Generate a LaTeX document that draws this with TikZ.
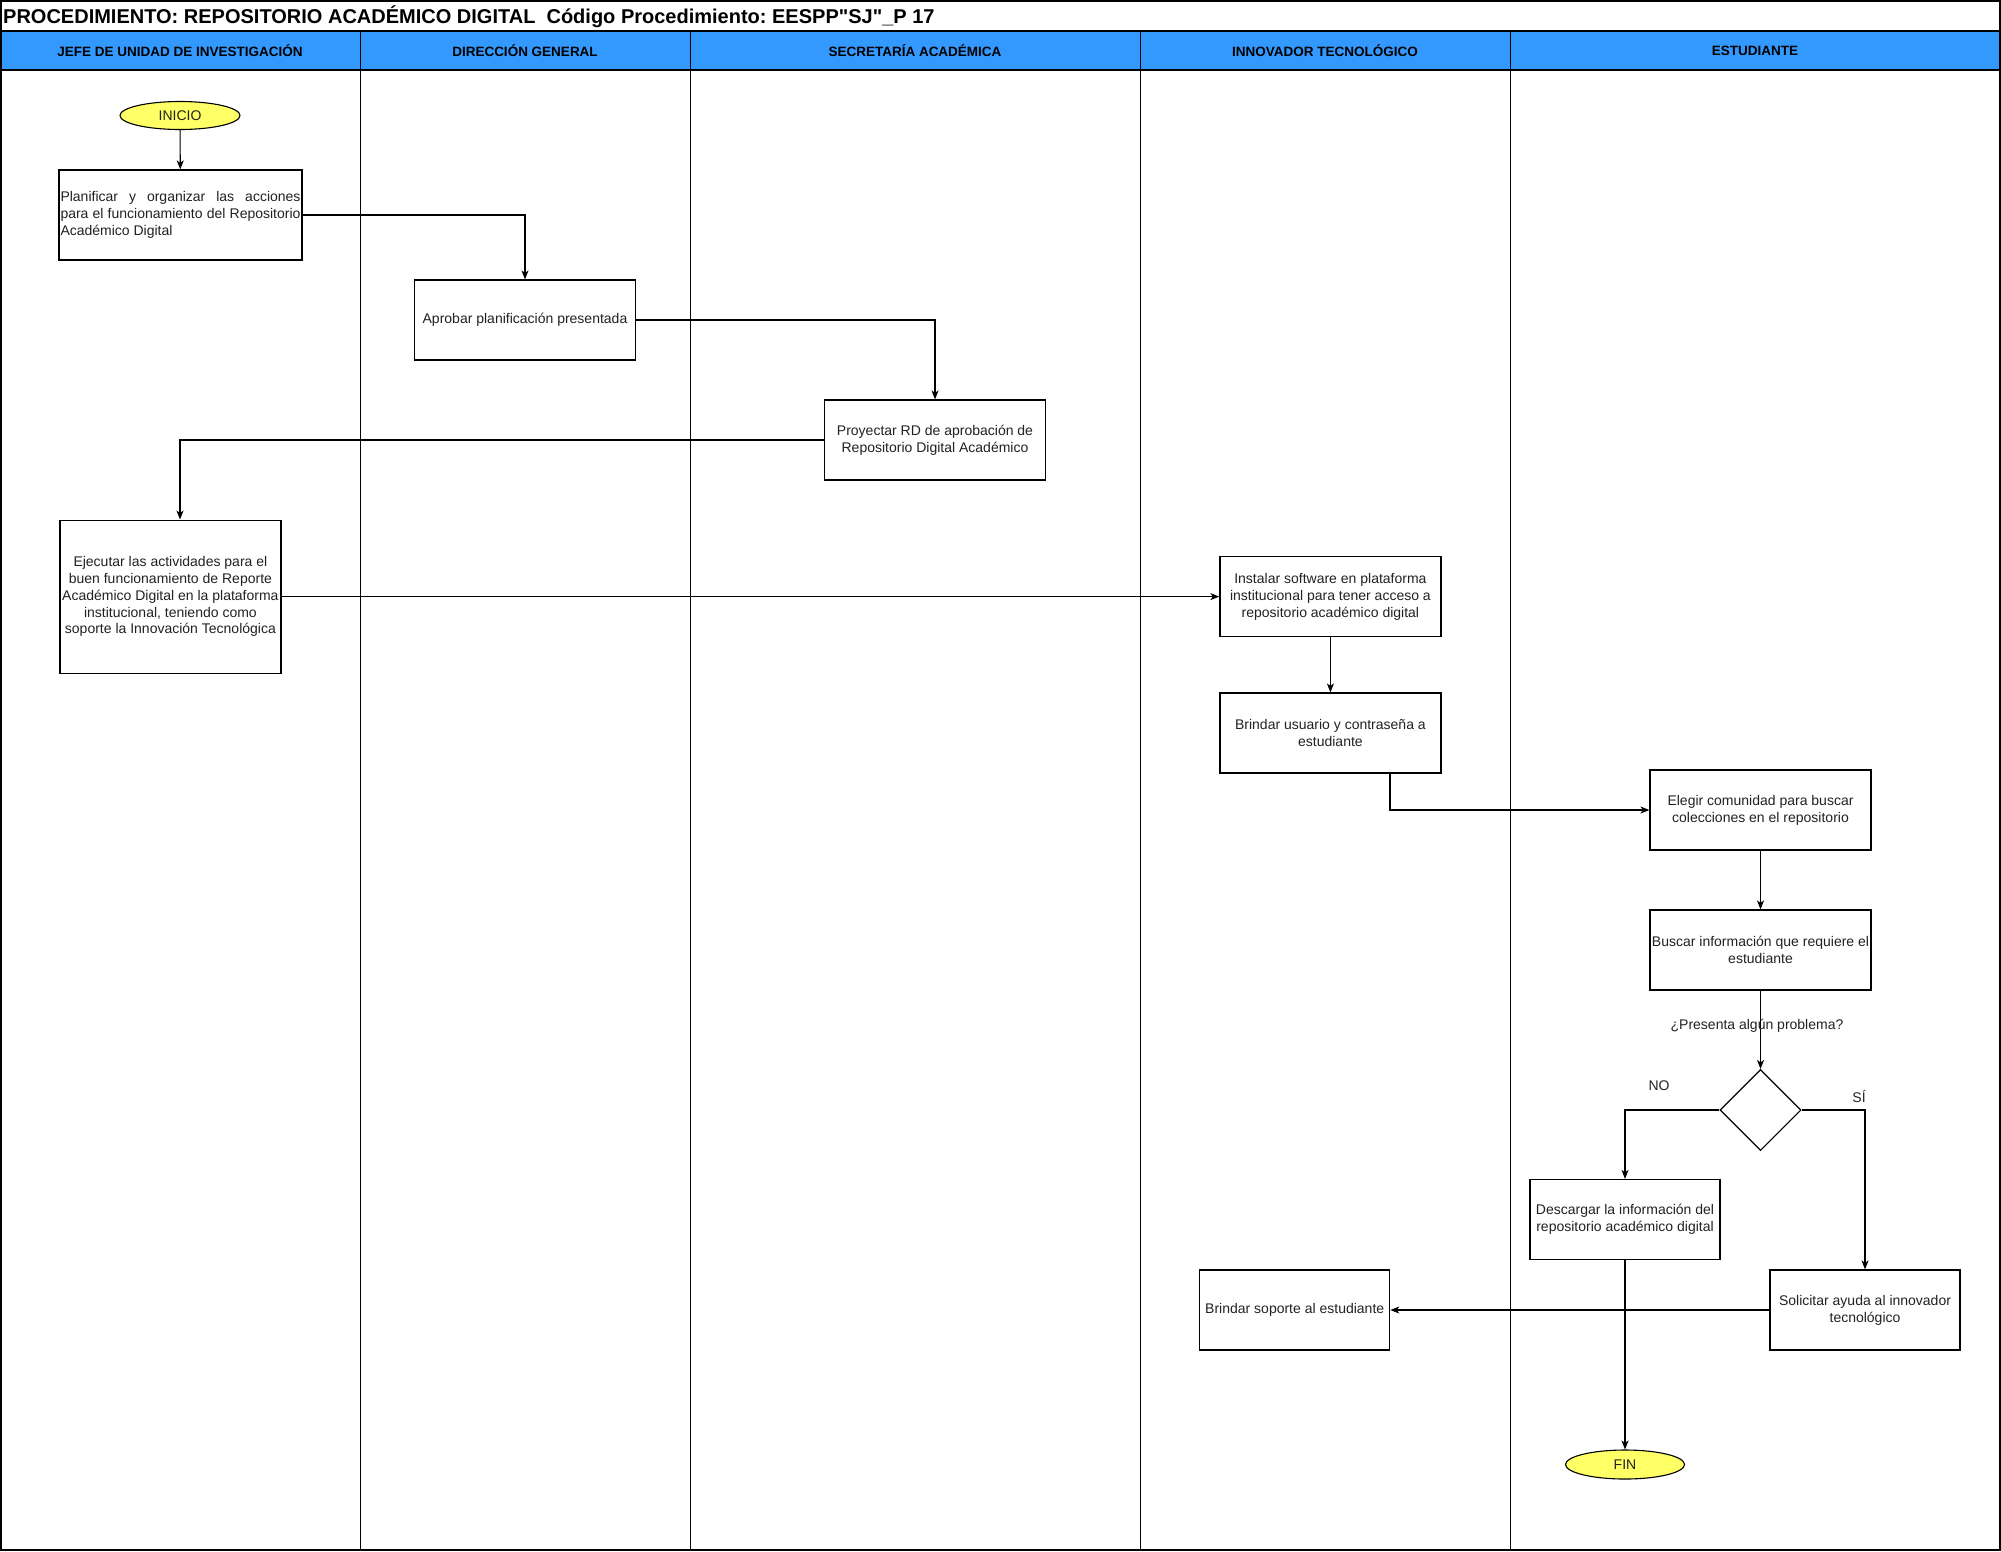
\documentclass[tikz,border=0pt]{standalone}
\usepackage{fontspec}
\setmainfont{Liberation Sans}[Ligatures=TeXOff]
\usetikzlibrary{shapes.geometric,arrows.meta,calc}
\definecolor{hdrblue}{RGB}{51,153,255}
\definecolor{inyellow}{RGB}{255,255,102}
\definecolor{txt}{RGB}{34,34,34}
\frenchspacing
\begin{document}
\begin{tikzpicture}[x=1pt,y=-1pt,
  every node/.style={font=\fontsize{14}{16.8}\selectfont,text=txt},
  box/.style={draw=black,line width=1.2pt,rectangle,minimum width=221pt,minimum height=80pt,align=center,inner sep=1pt,fill=white},
  sbox/.style={box,minimum width=190pt},
  term/.style={draw=black,line width=1.1pt,ellipse,fill=inyellow,minimum width=120pt,minimum height=28pt,inner sep=0pt},
  decis/.style={draw=black,line width=1.1pt,diamond,minimum width=81pt,minimum height=81pt,inner sep=0pt,fill=white},
  arr/.style={draw=black,line width=1.1pt,-{Stealth[length=9pt,width=7pt,inset=2.5pt]}},
  lane/.style={draw=black,line width=1pt},
  hdr/.style={font=\fontsize{13.5}{16}\selectfont\bfseries,text=black},
  lbl/.style={font=\fontsize{14}{16.8}\selectfont,inner sep=0pt}
]
\useasboundingbox (0,0) rectangle (2001,1551);
% header band
\fill[hdrblue] (1,31) rectangle (2000,70);
\draw[line width=1.5pt] (1,31) -- (2000,31);
\draw[line width=1.5pt] (1,70) -- (2000,70);
% lanes
\foreach \xx in {360,690,1140,1510} \draw[lane] (\xx,31) -- (\xx,1550);
% outer border
\draw[line width=1.5pt] (1,1) rectangle (2000,1550);
% title
\node[anchor=west,inner sep=0pt,text=black,font=\fontsize{20}{24}\selectfont\bfseries] (title) at (3,17) {PROCEDIMIENTO: REPOSITORIO ACADÉMICO DIGITAL\ \ Código Procedimiento: EESPP"SJ"\_P 17};
% header labels
\node[hdr] (h1) at (180,51) {JEFE DE UNIDAD DE INVESTIGACIÓN};
\node[hdr] (h2) at (525,51) {DIRECCIÓN GENERAL};
\node[hdr] (h3) at (915,51) {SECRETARÍA ACADÉMICA};
\node[hdr] (h4) at (1325,51) {INNOVADOR TECNOLÓGICO};
\node[hdr] (h5) at (1755,51) {ESTUDIANTE};

% nodes
\node[term] (inicio) at (180,115.5) {INICIO};
\node[box,minimum width=243pt,minimum height=90pt,align=left] (plan) at (180.5,215)
  {\makebox[240pt][s]{Planificar y organizar las acciones}\\\makebox[240pt][s]{para el funcionamiento del Repositorio}\\Académico Digital};
\node[box] (aprob) at (525,320) {Aprobar planificación presentada};
\node[box] (proy) at (935,440) {Proyectar RD de aprobación de\\Repositorio Digital Académico};
\node[box,minimum height=153pt] (ejec) at (170.4,596.6) {Ejecutar las actividades para el\\buen funcionamiento de Reporte\\Académico Digital en la plataforma\\institucional, teniendo como\\soporte la Innovación Tecnológica};
\node[box] (inst) at (1330.4,596.6) {Instalar software en plataforma\\institucional para tener acceso a\\repositorio académico digital};
\node[box] (busr) at (1330.4,733) {Brindar usuario y contraseña a\\estudiante};
\node[box] (eleg) at (1760.5,810) {Elegir comunidad para buscar\\colecciones en el repositorio};
\node[box] (busc) at (1760.5,950) {Buscar información que requiere el\\estudiante};
\node[decis] (dia) at (1760.5,1110) {};
\node[sbox] (desc) at (1625,1219.5) {Descargar la información del\\repositorio académico digital};
\node[sbox] (soli) at (1865,1310) {Solicitar ayuda al innovador\\tecnológico};
\node[sbox] (sopo) at (1294.7,1310) {Brindar soporte al estudiante};
\node[term,minimum width=119pt,minimum height=29pt] (fin) at (1625,1464.5) {FIN};

% connectors
\coordinate (ejtop) at (ejec.north -| inicio.south);
\coordinate (bu1) at ($(busr.south)+(59.6,0)$);
\draw[arr] (inicio) -- (plan);
\draw[arr] (plan.east) -| (aprob.north);
\draw[arr] (aprob.east) -| (proy.north);
\draw[arr] (proy.west) -| (ejtop);
\draw[arr] (ejec.east) -- (inst.west);
\draw[arr] (inst) -- (busr);
\draw[arr] (bu1) |- (eleg.west);
\draw[arr] (eleg) -- (busc);
\draw[arr] (busc) -- (dia);
\draw[arr] (dia.west) -| (desc.north);
\draw[arr] (dia.east) -| (soli.north);
\draw[arr] (soli.west) -- (sopo.east);
\draw[arr] (desc) -- (fin);

% labels
\node[lbl] (q) at (1757,1026) {¿Presenta algún problema?};
\node[lbl] (no) at (1659,1086) {NO};
\node[lbl] (si) at (1859,1096) {SÍ};
\end{tikzpicture}
\end{document}
